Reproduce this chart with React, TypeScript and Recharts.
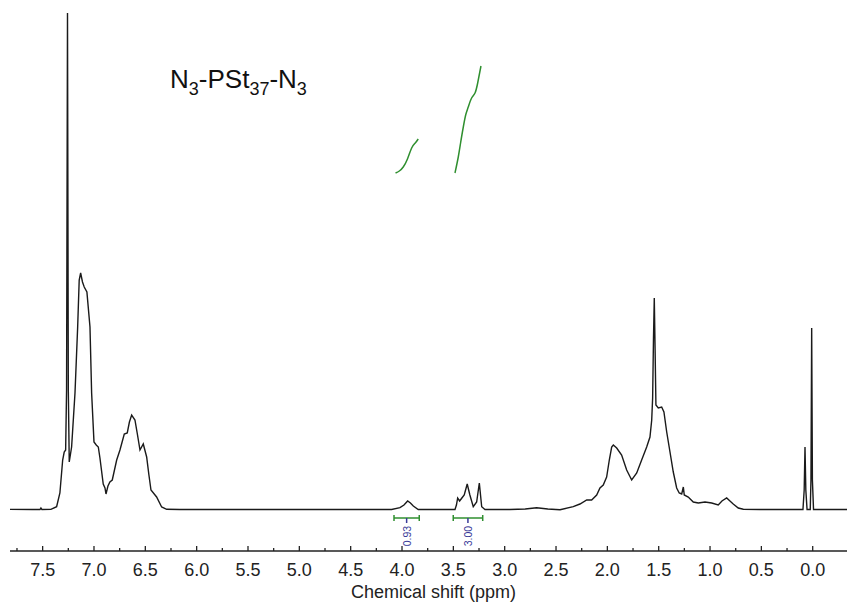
import { LineChart, Line, XAxis, YAxis, ReferenceLine, ReferenceDot } from 'recharts';

// 1H NMR spectrum (ppm, intensity above baseline)
const spectrumPpm = [
    7.818, 7.6, 7.526, 7.517, 7.507, 7.42, 7.364, 7.332, 7.305, 7.29, 7.276, 7.267, 7.258, 7.25, 7.241,
    7.218, 7.185, 7.159, 7.144, 7.13, 7.112, 7.095, 7.069, 7.039, 7.023, 7.0, 6.978, 6.958, 6.942,
    6.91, 6.893, 6.883, 6.864, 6.845, 6.822, 6.779, 6.747, 6.705, 6.676, 6.655, 6.633, 6.601, 6.576,
    6.552, 6.52, 6.487, 6.465, 6.445, 6.39, 6.341, 6.292, 6.163, 5.5, 4.8, 4.101, 4.02, 3.981, 3.945,
    3.918, 3.89, 3.842, 3.6, 3.484, 3.47, 3.458, 3.439, 3.417, 3.394, 3.365, 3.339, 3.306, 3.273,
    3.247, 3.224, 3.192, 2.949, 2.8, 2.689, 2.58, 2.461, 2.332, 2.267, 2.201, 2.153, 2.104, 2.072,
    2.04, 2.007, 1.981, 1.958, 1.942, 1.909, 1.861, 1.812, 1.763, 1.714, 1.666, 1.617, 1.585, 1.568,
    1.559, 1.551, 1.543, 1.535, 1.527, 1.504, 1.471, 1.449, 1.422, 1.39, 1.358, 1.325, 1.3, 1.276,
    1.26, 1.251, 1.212, 1.163, 1.114, 1.049, 0.984, 0.92, 0.884, 0.838, 0.806, 0.774, 0.725, 0.676,
    0.513, 0.3, 0.095, 0.083, 0.075, 0.067, 0.055, 0.024, 0.017, 0.01, 0.003, -0.008, -0.2, -0.334,
];
const spectrumInt = [
    0.6, 0.5, 0.5, 2, 0.5, 0.6, 3.3, 17, 50, 58, 60, 120, 497, 120, 48,
    63, 117, 183, 230, 237, 228, 223, 218, 183, 117, 68, 65, 63, 52,
    26, 22, 16, 24, 28, 30, 50, 60, 76, 77, 88, 95, 90, 75,
    60, 66, 53, 35, 20, 13, 3, 0.7, 0.5, 0.5, 0.5, 0.5, 2.3, 5, 9,
    7, 4, 0.5, 0.5, 0.5, 5, 12, 9, 12, 15, 26, 15, 3.3, 8,
    27, 3.3, 0.5, 0.5, 1, 2.3, 1, 0.3, 3.3, 6, 10, 10, 15, 22,
    25, 33, 50, 63, 65, 62, 55, 40, 30, 37, 50, 63, 73, 90,
    112, 170, 212, 160, 105, 102, 103, 98, 78, 58, 38, 22, 17, 16,
    23, 15, 13, 8, 7, 8, 7, 5, 9, 12, 9, 6, 2, 0.7,
    0.5, 0.5, 0.5, 20, 63, 20, 0.5, 0.5, 30, 182, 30, 0.5, 0.5, 0.5,
];

// integral curves
const integral1Ppm = [4.063, 4.026, 3.988, 3.947, 3.906, 3.871, 3.842];
const integral1Int = [337, 339, 343, 351, 362, 367, 371];
const integral2Ppm = [3.484, 3.452, 3.428, 3.403, 3.38, 3.355, 3.322, 3.289, 3.263, 3.231];
const integral2Int = [337, 353, 368, 383, 395, 403, 412, 417, 427, 444];

// integration ranges and values
const integralFrom = [4.078, 3.501];
const integralTo = [3.832, 3.214];
const integralMid = [3.955, 3.358];
const integralLabels = ['0.93', '3.00'];

const xTicks = [
    0, 0.25, 0.5, 0.75, 1, 1.25, 1.5, 1.75, 2, 2.25, 2.5, 2.75, 3, 3.25, 3.5, 3.75,
    4, 4.25, 4.5, 4.75, 5, 5.25, 5.5, 5.75, 6, 6.25, 6.5, 6.75, 7, 7.25, 7.5, 7.75,
];

const spectrum = spectrumPpm.map((p, i) => ({ ppm: p, y: spectrumInt[i] }));
const integral1 = integral1Ppm.map((p, i) => ({ ppm: p, y: integral1Int[i] }));
const integral2 = integral2Ppm.map((p, i) => ({ ppm: p, y: integral2Int[i] }));

const FONT = '"Liberation Sans", Arial, sans-serif';
const GREEN = '#2f8f2f';
const NAVY = '#3a3a98';
const BAR_Y = -8;

function AxisTick(props: any) {
    const { x, y, payload } = props;
    const v = payload.value;
    const major = Math.abs(v * 2 - Math.round(v * 2)) < 1e-6;
    return (
        <g>
            <line x1={x} x2={x} y1={y} y2={y - (major ? 5 : 3)} stroke="#222" strokeWidth={1.3} />
            {major && (
                <text x={x} y={y + 25} textAnchor="middle" fontSize={18} fontFamily={FONT} fill="#222">
                    {v.toFixed(1)}
                </text>
            )}
        </g>
    );
}

function App() {
    return (
        <div style={{ position: 'absolute', left: 0, top: 0, width: 847, height: 605, background: '#fff' }}>
            <LineChart width={847} height={605} margin={{ top: 0, right: 0, left: 10, bottom: 0 }}>
                <XAxis
                    dataKey="ppm"
                    type="number"
                    domain={[-0.334, 7.818]}
                    reversed
                    allowDataOverflow
                    ticks={xTicks}
                    interval={0}
                    height={54}
                    tickSize={0}
                    tickMargin={0}
                    tickLine={false}
                    axisLine={{ stroke: '#222', strokeWidth: 1.5 }}
                    tick={<AxisTick />}
                    label={{
                        content: (p: any) => (
                            <text
                                x={p.viewBox.x + p.viewBox.width / 2 + 5}
                                y={p.viewBox.y + 47}
                                textAnchor="middle"
                                fontSize={18}
                                fontFamily={FONT}
                                fill="#222"
                            >
                                Chemical shift (ppm)
                            </text>
                        ),
                    }}
                />
                <YAxis type="number" domain={[-41, 510]} hide allowDataOverflow />
                <Line
                    data={spectrum}
                    dataKey="y"
                    type="linear"
                    stroke="#1a1a1a"
                    strokeWidth={1.4}
                    dot={false}
                    isAnimationActive={false}
                />
                <Line
                    data={integral1}
                    dataKey="y"
                    type="natural"
                    stroke={GREEN}
                    strokeWidth={1.5}
                    dot={false}
                    isAnimationActive={false}
                />
                <Line
                    data={integral2}
                    dataKey="y"
                    type="natural"
                    stroke={GREEN}
                    strokeWidth={1.5}
                    dot={false}
                    isAnimationActive={false}
                />
                {integralFrom.map((from, i) => (
                    <ReferenceLine
                        key={`bar-${i}`}
                        segment={[{ x: from, y: BAR_Y }, { x: integralTo[i], y: BAR_Y }]}
                        stroke={GREEN}
                        strokeWidth={1.5}
                        ifOverflow="visible"
                    />
                ))}
                {integralFrom.map((from, i) => (
                    <ReferenceLine
                        key={`capL-${i}`}
                        segment={[{ x: from, y: BAR_Y - 3 }, { x: from, y: BAR_Y + 3 }]}
                        stroke={GREEN}
                        strokeWidth={1.5}
                        ifOverflow="visible"
                    />
                ))}
                {integralTo.map((to, i) => (
                    <ReferenceLine
                        key={`capR-${i}`}
                        segment={[{ x: to, y: BAR_Y - 3 }, { x: to, y: BAR_Y + 3 }]}
                        stroke={GREEN}
                        strokeWidth={1.5}
                        ifOverflow="visible"
                    />
                ))}
                {integralMid.map((m, i) => (
                    <ReferenceLine
                        key={`mid-${i}`}
                        segment={[{ x: m, y: BAR_Y }, { x: m, y: BAR_Y - 5 }]}
                        stroke={NAVY}
                        strokeWidth={1.5}
                        ifOverflow="visible"
                    />
                ))}
                {integralMid.map((m, i) => (
                    <ReferenceDot
                        key={`lab-${i}`}
                        x={m}
                        y={BAR_Y}
                        ifOverflow="visible"
                        shape={(p: any) => (
                            <text
                                x={p.cx}
                                y={p.cy + 18}
                                transform={`rotate(-90 ${p.cx} ${p.cy + 18})`}
                                textAnchor="middle"
                                dominantBaseline="central"
                                fontSize={10.5}
                                fontFamily={FONT}
                                fill={NAVY}
                            >
                                {integralLabels[i]}
                            </text>
                        )}
                    />
                ))}
            </LineChart>
            <svg width={847} height={605} style={{ position: 'absolute', left: 0, top: 0, pointerEvents: 'none' }}>
                <text x={170} y={88} fontSize={26} fontFamily={FONT} fill="#111">
                    N<tspan fontSize={18} dy={7}>3</tspan>
                    <tspan dy={-7}>-PSt</tspan>
                    <tspan fontSize={18} dy={7}>37</tspan>
                    <tspan dy={-7}>-N</tspan>
                    <tspan fontSize={18} dy={7}>3</tspan>
                </text>
            </svg>
        </div>
    );
}

export default App;
